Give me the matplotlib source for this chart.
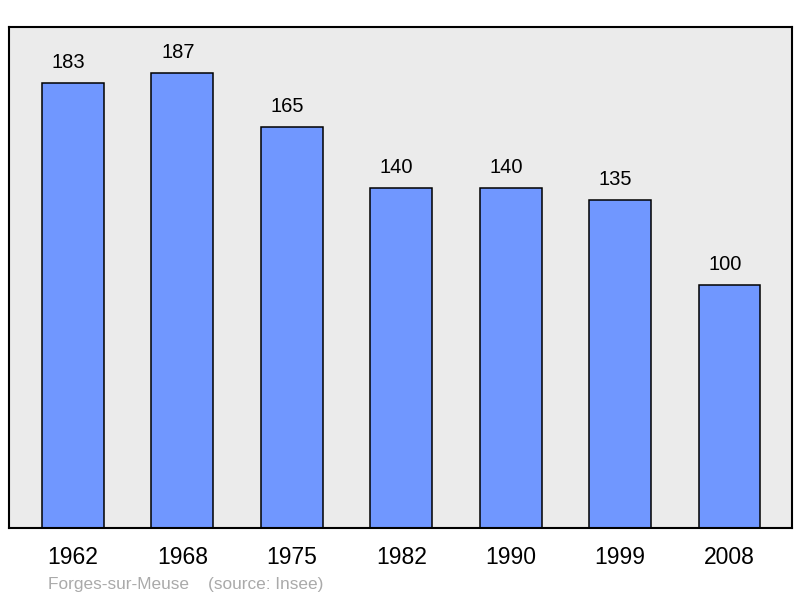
import matplotlib.pyplot as plt
import numpy as np

plt.rcParams['font.family'] = ['Liberation Sans', 'DejaVu Sans']

# Data
years = ["1962", "1968", "1975", "1982", "1990", "1999", "2008"]
population = [183, 187, 165, 140, 140, 135, 100]

fig = plt.figure(figsize=(8, 5.98), dpi=100)
ax = fig.add_axes([9 / 800, 70 / 598, 783 / 800, 501 / 598])
ax.set_facecolor('#ebebeb')

x = np.arange(len(years))
bars = ax.bar(x, population, width=0.566, color='#7097ff', edgecolor='black', linewidth=1.1)

# Value labels above bars
for xi, val in zip(x, population):
    ax.annotate(str(val), (xi, val), xytext=(-3.3, 10.8), textcoords='offset points',
                ha='center', va='baseline', fontsize=14.5)

ax.set_xlim(-0.585, 6.571)
ax.set_ylim(0, 206)
ax.set_yticks([])
ax.set_xticks(x)
ax.set_xticklabels(years, fontsize=16.5)
ax.tick_params(axis='x', length=0, pad=13)
for s in ax.spines.values():
    s.set_linewidth(1.5)

fig.text(48 / 800, 9 / 598, "Forges-sur-Meuse    (source: Insee)", color='#aaaaaa',
         fontsize=12.4, ha='left', va='baseline')

fig.savefig("out.png", dpi=100)
